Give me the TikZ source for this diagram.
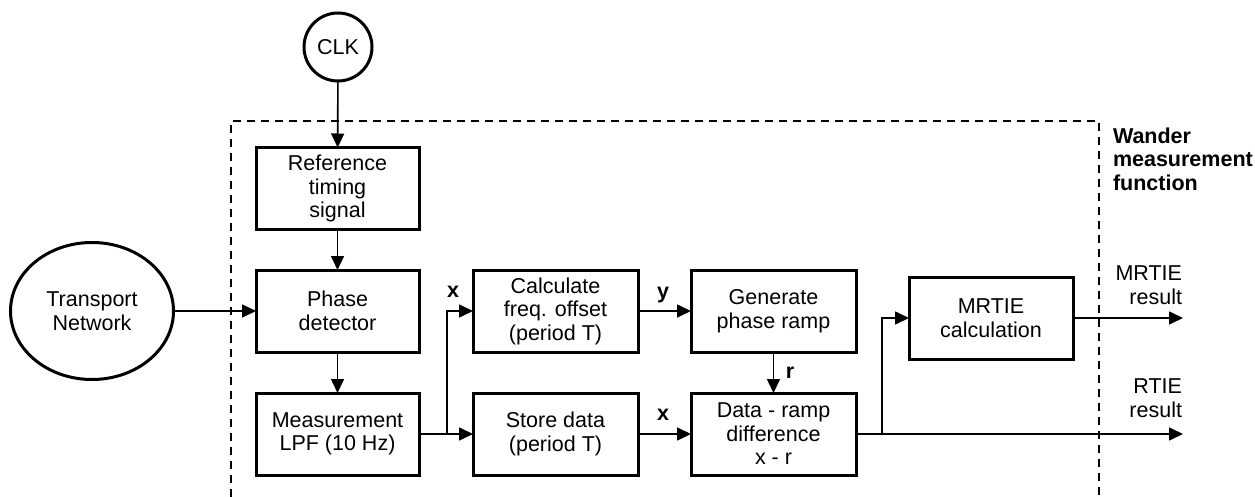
\documentclass[tikz,border=0pt]{standalone}
\usepackage{fontspec}
\setmainfont{Liberation Sans}
\usetikzlibrary{arrows.meta,shapes.geometric}
\begin{document}
\begin{tikzpicture}[x=1pt,y=-1pt,
  every node/.style={font=\fontsize{21.5}{23.5}\selectfont, inner sep=0pt, outer sep=0pt},
  blk/.style={draw, line width=3pt, minimum width=163pt, minimum height=82pt, align=center},
  conn/.style={line width=1.6pt, -{Triangle[length=14pt,width=13pt]}},
  plain/.style={line width=1.6pt},
  lbl/.style={font=\fontsize{21.5}{23.5}\selectfont\bfseries}
]
\useasboundingbox (0,0) rectangle (1255,497);
% dashed frame
\draw[line width=2pt, dash pattern=on 8pt off 6pt] (231,497) -- (231,121) -- (1099,121) -- (1099,497);
% nodes
\node[draw, circle, line width=3pt, minimum size=68pt] (clk) at (338,47) {CLK};
\node[draw, ellipse, line width=3pt, minimum width=163pt, minimum height=137pt, align=center] (tn) at (92,311) {Transport\\Network};
\node[blk] (ref) at (337.5,188.5) {Reference\\timing\\signal};
\node[blk] (pd) at (337.5,311) {Phase\\detector};
\node[blk] (lpf) at (337.5,434) {Measurement\\LPF (10 Hz)};
\node[blk, minimum width=165pt] (calc) at (555.5,311) {Calculate\\freq. offset\\(period T)};
\node[blk, minimum width=165pt] (store) at (555.5,434) {Store data\\(period T)};
\node[blk, minimum width=165pt] (gen) at (773.5,311) {Generate\\phase ramp};
\node[blk, minimum width=165pt] (diff) at (773.5,434) {Data - ramp\\difference\\x - r};
\node[blk, minimum width=164pt] (mrtie) at (991,318) {MRTIE\\calculation};
% coordinates
\coordinate (b1) at (447,434);
\coordinate (b2) at (882,434);
\coordinate (o1) at (1183,318);
\coordinate (o2) at (1183,434);
% connectors
\draw[conn] (clk) -- (ref);
\draw[conn] (ref) -- (pd);
\draw[conn] (pd) -- (lpf);
\draw[conn] (tn.east) -- (pd.west);
\draw[conn] (lpf.east) -- (store.west);
\draw[conn] (b1) |- (calc.west);
\draw[conn] (calc.east) -- (gen.west);
\draw[conn] (store.east) -- (diff.west);
\draw[conn] (gen) -- (diff);
\draw[conn] (diff.east) -- (o2);
\draw[conn] (b2) |- (mrtie.west);
\draw[conn] (mrtie.east) -- (o1);
% labels
\node[lbl] at (453,292) {x};
\node[lbl] at (663,295) {y};
\node[lbl] at (663,415) {x};
\node[lbl] at (790,373) {r};
\node[align=right, anchor=east] (l1) at (1182,285) {MRTIE\\result};
\node[align=right, anchor=east] (l2) at (1182,398) {RTIE\\result};
\node[align=left, anchor=west, lbl] (l3) at (1113,159) {Wander\\measurement\\function};
\end{tikzpicture}
\end{document}
